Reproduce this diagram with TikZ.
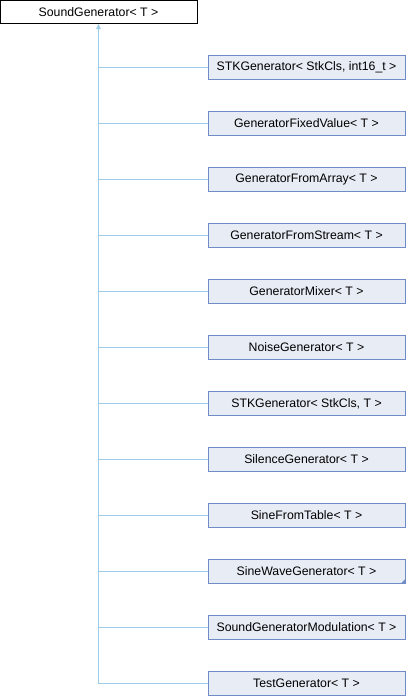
\documentclass[tikz,border=0pt]{standalone}
\usepackage{fontspec}
\setmainfont{Liberation Sans}
\usetikzlibrary{arrows.meta}
\definecolor{inhline}{HTML}{9CCDE8}
\definecolor{boxline}{HTML}{6F8CC6}
\definecolor{boxfill}{HTML}{E8ECF5}
\begin{document}
\begin{tikzpicture}[x=1pt, y=-1pt, font=\fontsize{12.3}{14}\selectfont,
  base/.style={draw=black, fill=white, line width=1pt, minimum width=197pt, minimum height=23.5pt, inner sep=0pt},
  cls/.style={draw=boxline, fill=boxfill, line width=1pt, minimum width=197pt, minimum height=23.5pt, inner sep=0pt},
  inh/.style={draw=inhline, line width=0.9pt}]
  \useasboundingbox (0,0) rectangle (406,696);

  \node[base] (root) at (98.5,11.75) {SoundGenerator< T >};

  \node[cls] (stk16) at (306.5,67.5) {STKGenerator< StkCls, int16\_t >};
  \node[cls] (fixed) at (306.5,123.5) {GeneratorFixedValue< T >};
  \node[cls] (array) at (306.5,179.5) {GeneratorFromArray< T >};
  \node[cls] (stream) at (306.5,235.5) {GeneratorFromStream< T >};
  \node[cls] (mixer) at (306.5,291.5) {GeneratorMixer< T >};
  \node[cls] (noise) at (306.5,347.5) {NoiseGenerator< T >};
  \node[cls] (stkT) at (306.5,403.5) {STKGenerator< StkCls, T >};
  \node[cls] (silence) at (306.5,459.5) {SilenceGenerator< T >};
  \node[cls] (table) at (306.5,515.5) {SineFromTable< T >};
  \node[cls] (sine) at (306.5,571.5) {SineWaveGenerator< T >};
  \node[cls] (modul) at (306.5,627.5) {SoundGeneratorModulation< T >};
  \node[cls] (test) at (306.5,683.5) {TestGenerator< T >};

  % more derived classes
  \fill[boxline] ([xshift=-5pt]sine.south east) -- (sine.south east) -- ([yshift=5pt]sine.south east) -- cycle;

  \coordinate (trunk) at (test.west -| root.south);
  \draw[inh, -{Triangle[length=5pt,width=4.5pt]}] (trunk) -- (root.south);

  \draw[inh] (stk16.west -| root.south) -- (stk16.west);
  \draw[inh] (fixed.west -| root.south) -- (fixed.west);
  \draw[inh] (array.west -| root.south) -- (array.west);
  \draw[inh] (stream.west -| root.south) -- (stream.west);
  \draw[inh] (mixer.west -| root.south) -- (mixer.west);
  \draw[inh] (noise.west -| root.south) -- (noise.west);
  \draw[inh] (stkT.west -| root.south) -- (stkT.west);
  \draw[inh] (silence.west -| root.south) -- (silence.west);
  \draw[inh] (table.west -| root.south) -- (table.west);
  \draw[inh] (sine.west -| root.south) -- (sine.west);
  \draw[inh] (modul.west -| root.south) -- (modul.west);
  \draw[inh] (trunk) -- (test.west);
\end{tikzpicture}
\end{document}
